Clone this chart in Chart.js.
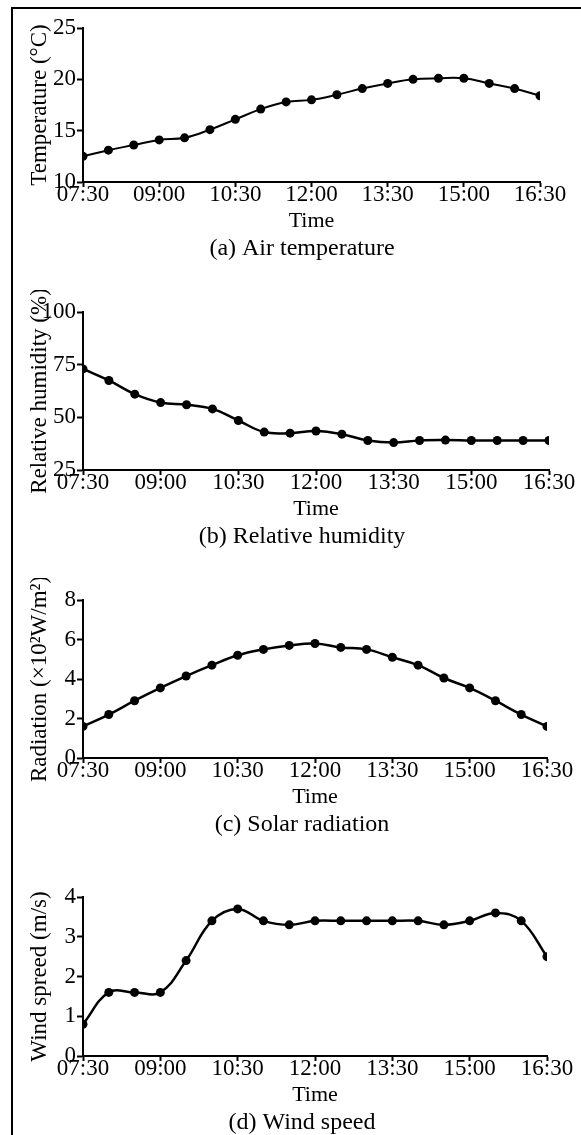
<!DOCTYPE html>
<html>
<head>
<meta charset="utf-8">
<script src="https://cdn.jsdelivr.net/npm/chart.js@4.4.1/dist/chart.umd.min.js"></script>
<style>
  html, body { margin: 0; padding: 0; background: #fff; }
  body { width: 581px; height: 1135px; position: relative; overflow: hidden; }
  #frame { position: absolute; left: 11px; top: 7px; right: 0; bottom: 0;
           border-left: 2px solid #000; border-top: 2px solid #000; }
  canvas { position: absolute; left: 0; }
</style>
</head>
<body>
<div id="frame"></div>
<canvas id="tempChart"></canvas>
<canvas id="humChart"></canvas>
<canvas id="radChart"></canvas>
<canvas id="windChart"></canvas>
<script>
// time of day, every 30 min; only every third one gets a label
const times = ['07:30', '08:00', '08:30', '09:00', '09:30', '10:00', '10:30', '11:00', '11:30', '12:00',
               '12:30', '13:00', '13:30', '14:00', '14:30', '15:00', '15:30', '16:00', '16:30'];

const temperature = [12.5, 13.1, 13.6, 14.1, 14.3, 15.1, 16.1, 17.1, 17.8, 18.0,
                     18.5, 19.1, 19.6, 20.0, 20.1, 20.1, 19.6, 19.1, 18.4];
const humidity = [73, 67.5, 61, 57, 56, 54, 48.5, 43, 42.5, 43.5,
                  42, 39, 38, 39, 39.2, 39, 39, 39, 39];
const radiation = [1.6, 2.2, 2.9, 3.55, 4.15, 4.7, 5.2, 5.5, 5.7, 5.8,
                   5.6, 5.5, 5.1, 4.7, 4.05, 3.55, 2.9, 2.2, 1.6];
const windSpeed = [0.8, 1.6, 1.6, 1.6, 2.4, 3.4, 3.7, 3.4, 3.3, 3.4,
                   3.4, 3.4, 3.4, 3.4, 3.3, 3.4, 3.6, 3.4, 2.5];

const FONT = '"Liberation Serif", "Times New Roman", Times, serif';
const W = 581;
const PLOT_LEFT = 83;

const panels = [
  { id: 'tempChart', values: temperature, yTitle: 'Temperature (°C)', caption: '(a) Air temperature',
    min: 10, max: 25, step: 5, top: 28, bottom: 182, right: 540, lw: 2 },
  { id: 'humChart', values: humidity, yTitle: 'Relative humidity (%)', caption: '(b) Relative humidity',
    min: 25, max: 100, step: 25, top: 312, bottom: 470, right: 549, lw: 2.5 },
  { id: 'radChart', values: radiation, yTitle: 'Radiation (×10²W/m²)', caption: '(c) Solar radiation',
    min: 0, max: 8, step: 2, top: 600, bottom: 758, right: 547, lw: 2.5 },
  { id: 'windChart', values: windSpeed, yTitle: 'Wind spreed (m/s)', caption: '(d) Wind speed',
    min: 0, max: 4, step: 1, top: 897, bottom: 1056, right: 547, lw: 2.5 }
];

const PAD_TOP = 22;      // room above the plot for the top tick label
const XAXIS_H = 54;      // tick labels + "Time"
const CAP_H = 34;        // space under the x axis box for the caption
const CAP_X = 302;
const CAP_DY = 67;       // caption centre below the x axis line

function font(size) {
  return { family: FONT, size: size, lineHeight: 1 };
}

// panel caption, e.g. "(a) Air temperature", drawn under the x axis title
const captionPlugin = {
  id: 'caption',
  afterDraw(chart, args, opts) {
    const ctx = chart.ctx;
    ctx.save();
    ctx.font = `24px ${FONT}`;
    ctx.fillStyle = '#000';
    ctx.textAlign = 'center';
    ctx.textBaseline = 'middle';
    ctx.fillText(opts.text, CAP_X, chart.chartArea.bottom + CAP_DY);
    ctx.restore();
  }
};

function makePanel(p) {
  const cv = document.getElementById(p.id);
  const h = PAD_TOP + (p.bottom - p.top) + XAXIS_H + CAP_H;
  cv.width = W;
  cv.height = h;
  cv.style.top = (p.top - PAD_TOP) + 'px';
  cv.style.width = W + 'px';
  cv.style.height = h + 'px';

  return new Chart(cv, {
    type: 'line',
    data: {
      labels: times,
      datasets: [{
        data: p.values,
        borderColor: '#000',
        backgroundColor: '#000',
        borderWidth: p.lw,
        tension: 0.4,
        pointRadius: 4.5,
        pointBorderWidth: 0,
        pointBackgroundColor: '#000',
        clip: 0
      }]
    },
    plugins: [captionPlugin],
    options: {
      responsive: false,
      animation: false,
      devicePixelRatio: 1,
      layout: { padding: { top: PAD_TOP, left: 0, right: W - p.right, bottom: CAP_H } },
      plugins: {
        legend: { display: false },
        tooltip: { enabled: false },
        title: { display: false },
        caption: { text: p.caption }
      },
      scales: {
        x: {
          type: 'category',
          offset: false,
          afterFit: s => { s.height = XAXIS_H; },
          border: { display: true, color: '#000', width: 2 },
          grid: { drawOnChartArea: false, drawTicks: true, tickLength: 5, tickWidth: 2, tickColor: '#000' },
          ticks: {
            color: '#000', font: font(23), padding: -4,
            autoSkip: false, maxRotation: 0, minRotation: 0,
            callback: (v, i) => (i % 3 === 0 ? times[i] : null)
          },
          title: { display: true, text: 'Time', color: '#000', font: font(22), padding: { top: 0, bottom: 4 } }
        },
        y: {
          min: p.min, max: p.max,
          afterFit: s => { s.width = PLOT_LEFT; },
          border: { display: true, color: '#000', width: 2 },
          grid: { drawOnChartArea: false, drawTicks: true, tickLength: 6, tickWidth: 2, tickColor: '#000' },
          ticks: { color: '#000', font: font(23), padding: 1, stepSize: p.step },
          title: { display: true, text: p.yTitle, color: '#000', font: font(23), padding: { top: 28, bottom: 0 } }
        }
      }
    }
  });
}

const charts = panels.map(makePanel);
</script>
</body>
</html>
